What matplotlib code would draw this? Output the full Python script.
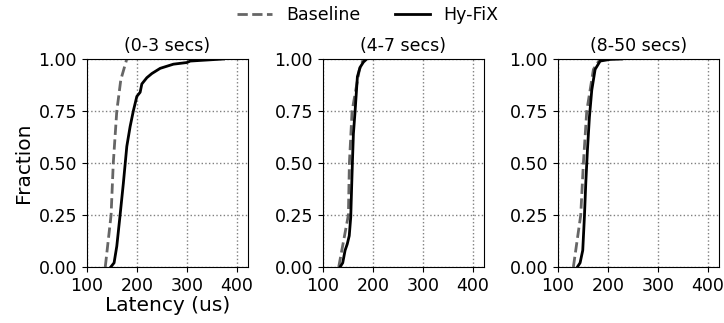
import numpy as np
import matplotlib.pyplot as plt

# CDF: (fraction, latency in us) pairs per panel
titles = ['(0-3 secs)', '(4-7 secs)', '(8-50 secs)']

base_frac_1 = [0.0, 0.25, 0.5, 0.75, 0.9, 1.0]
base_lat_1 = [137, 148.6, 153, 160, 168, 180]
hyfix_frac_1 = [0.0, 0.02, 0.1, 0.25, 0.40, 0.58, 0.675, 0.75, 0.82, 0.84, 0.88,
                0.91, 0.93, 0.955, 0.975, 0.983, 0.99, 1.0]
hyfix_lat_1 = [148, 154.6, 160, 166.6, 173, 180, 186.6, 193, 200, 206.6, 210,
               220, 230, 246.6, 273, 300, 306.6, 373]

base_frac_2 = [0.0, 0.25, 0.5, 0.75, 0.95, 1.0]
base_lat_2 = [132, 151.3, 153.3, 158.7, 173.3, 181.3]
hyfix_frac_2 = [0.0, 0.02, 0.08, 0.11, 0.15, 0.24, 0.40, 0.5, 0.64, 0.75, 0.915,
                0.96, 0.985, 1.0]
hyfix_lat_2 = [134.7, 140, 144.7, 149, 153, 156, 158, 159.3, 161.3, 164.7, 169.3,
               174.7, 181.3, 188]

base_frac_3 = [0.0, 0.25, 0.5, 0.75, 0.95, 1.0]
base_lat_3 = [131.3, 146, 151.3, 158, 171.3, 184.7]
hyfix_frac_3 = [0.0, 0.02, 0.08, 0.24, 0.40, 0.56, 0.72, 0.85, 0.95, 0.99, 0.998, 1.0]
hyfix_lat_3 = [139.3, 144.7, 150, 153.3, 156, 159.3, 163.3, 168, 174.7, 184.7, 204.7, 228]

panels = [
    (base_lat_1, base_frac_1, hyfix_lat_1, hyfix_frac_1),
    (base_lat_2, base_frac_2, hyfix_lat_2, hyfix_frac_2),
    (base_lat_3, base_frac_3, hyfix_lat_3, hyfix_frac_3),
]

fig = plt.figure(figsize=(7.24, 3.23), dpi=100)
lefts = [0.1198, 0.4457, 0.7703]

for i, (bl, bf, hl, hf) in enumerate(panels):
    ax = fig.add_axes([lefts[i], 0.1734, 0.2228, 0.644])
    ax.plot(bl, bf, linestyle='--', color='#666666', lw=2, label='Baseline')
    ax.plot(hl, hf, linestyle='-', color='black', lw=2, label='Hy-FiX')
    ax.set_xlim(100, 422)
    ax.set_ylim(0, 1)
    ax.set_xticks([100, 200, 300, 400])
    ax.set_yticks([0, 0.25, 0.5, 0.75, 1.0])
    ax.set_yticklabels(['0.00', '0.25', '0.50', '0.75', '1.00'])
    ax.tick_params(labelsize=12.5)
    ax.grid(True, linestyle=':', color='grey', lw=1)
    ax.set_title(titles[i], fontsize=12.5)
    if i == 0:
        ax.set_ylabel('Fraction', fontsize=14.5)
        ax.set_xlabel('Latency (us)', fontsize=14.5, labelpad=1)
        handles, labels = ax.get_legend_handles_labels()

fig.legend(handles, labels, loc='upper center', bbox_to_anchor=(0.508, 1.03),
           ncol=2, frameon=False, fontsize=12.5)

fig.savefig('out.png', dpi=100)
